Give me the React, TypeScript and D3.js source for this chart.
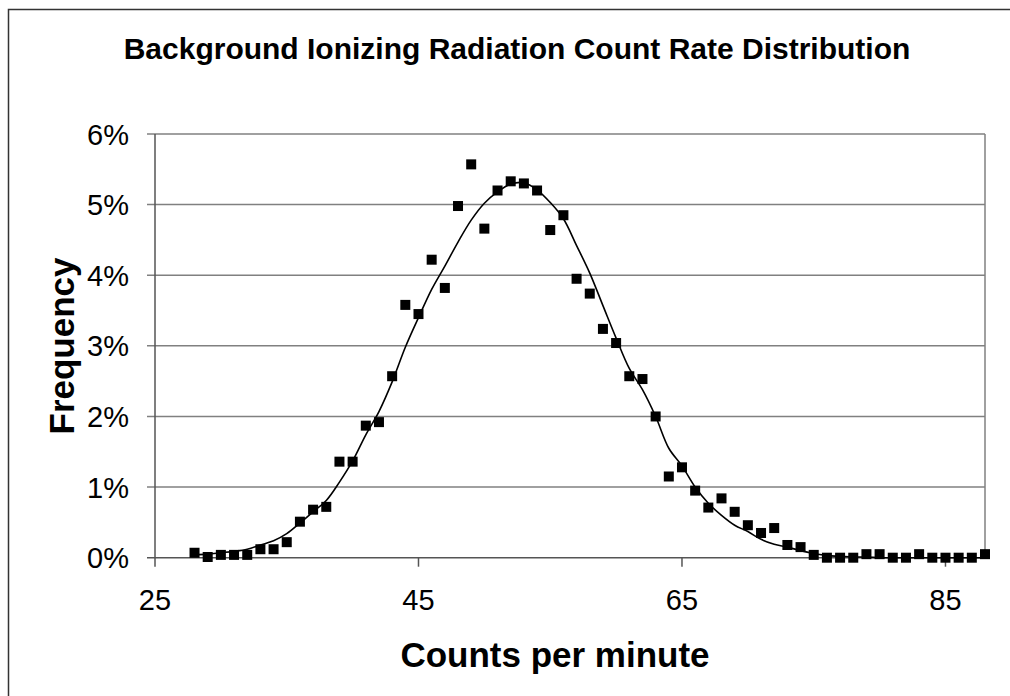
import React from "react";
import * as d3 from "d3";

const counts = [28, 29, 30, 31, 32, 33, 34, 35, 36, 37, 38, 39, 40, 41, 42, 43, 44, 45, 46, 47, 48, 49, 50, 51, 52, 53, 54, 55, 56, 57, 58, 59, 60, 61, 62, 63, 64, 65, 66, 67, 68, 69, 70, 71, 72, 73, 74, 75, 76, 77, 78, 79, 80, 81, 82, 83, 84, 85, 86, 87, 88];

const observed = [0.07, 0.01, 0.04, 0.04, 0.04, 0.12, 0.12, 0.22, 0.51, 0.68, 0.72, 1.36, 1.36, 1.87, 1.92, 2.57, 3.58, 3.45, 4.22, 3.82, 4.98, 5.57, 4.66, 5.2, 5.33, 5.3, 5.2, 4.64, 4.85, 3.95, 3.74, 3.24, 3.04, 2.57, 2.53, 2.0, 1.15, 1.28, 0.95, 0.71, 0.84, 0.65, 0.46, 0.35, 0.42, 0.18, 0.15, 0.04, 0.0, 0.0, 0.0, 0.05, 0.05, 0.0, 0.0, 0.05, 0.0, 0.0, 0.0, 0.0, 0.05];

const fitted = [0.04, 0.05, 0.07, 0.09, 0.12, 0.18, 0.24, 0.34, 0.49, 0.65, 0.81, 1.07, 1.37, 1.74, 2.07, 2.49, 2.98, 3.4, 3.8, 4.13, 4.47, 4.78, 5.02, 5.18, 5.29, 5.31, 5.21, 5.03, 4.8, 4.42, 4.03, 3.57, 3.11, 2.68, 2.38, 2.0, 1.55, 1.3, 1.0, 0.77, 0.6, 0.46, 0.37, 0.26, 0.19, 0.15, 0.1, 0.06, 0.03, 0.02, 0.01, 0.01, 0.0, 0.0, 0.0, 0.0, 0.0, 0.0, 0.0, 0.0, 0.0];

const xTicks = [25, 45, 65, 85];
const yTicks = [0, 1, 2, 3, 4, 5, 6];

const TITLE = "Background Ionizing Radiation Count Rate Distribution";
const X_TITLE = "Counts per minute";
const Y_TITLE = "Frequency";

const FONT = "'Liberation Sans', Arial, Helvetica, sans-serif";

export default function App() {
  const left = 155;
  const right = 985;
  const top = 134;
  const bottom = 557.7;

  const x = d3.scaleLinear().domain([25, 88]).range([left, right]);
  const y = d3.scaleLinear().domain([0, 6]).range([bottom, top]);

  const line = d3
    .line<number>()
    .x((_, i) => x(counts[i]))
    .y((d) => y(d))
    .curve(d3.curveCatmullRom.alpha(0.5));

  const ms = 10;

  return (
    <svg
      width={1010}
      height={696}
      style={{ position: "absolute", left: 0, top: 0, display: "block", background: "#fff" }}
    >
      <rect x={0} y={0} width={1010} height={696} fill="#fff" />
      <rect x={8.5} y={9.5} width={1200} height={900} fill="none" stroke="#333" strokeWidth={1.5} />

      <text
        x={517}
        y={59}
        textAnchor="middle"
        fontFamily={FONT}
        fontWeight="bold"
        fontSize={30}
        fill="#000"
      >
        {TITLE}
      </text>

      {/* gridlines */}
      {yTicks.map((t) => (
        <line
          key={"g" + t}
          x1={left - 8}
          x2={right}
          y1={y(t)}
          y2={y(t)}
          stroke={t === 0 ? "#555" : "#808080"}
          strokeWidth={1.5}
        />
      ))}
      {/* right border of plot */}
      <line x1={right} x2={right} y1={top} y2={bottom} stroke="#808080" strokeWidth={1.5} />
      {/* y axis */}
      <line x1={left} x2={left} y1={top} y2={bottom} stroke="#555" strokeWidth={1.5} />
      {/* x ticks */}
      {xTicks.map((t) => (
        <line key={"xt" + t} x1={x(t)} x2={x(t)} y1={bottom} y2={bottom + 9} stroke="#555" strokeWidth={1.5} />
      ))}

      {/* y tick labels */}
      {yTicks.map((t) => (
        <text
          key={"yl" + t}
          x={129}
          y={y(t) + 10.5}
          textAnchor="end"
          fontFamily={FONT}
          fontSize={29}
          fill="#000"
        >
          {t + "%"}
        </text>
      ))}
      {/* x tick labels */}
      {xTicks.map((t) => (
        <text
          key={"xl" + t}
          x={x(t)}
          y={610}
          textAnchor="middle"
          fontFamily={FONT}
          fontSize={29}
          fill="#000"
        >
          {t}
        </text>
      ))}

      {/* fitted curve */}
      <path d={line(fitted) || ""} fill="none" stroke="#000" strokeWidth={1.6} />

      {/* observed markers */}
      {observed.map((v, i) => (
        <rect key={"m" + i} x={x(counts[i]) - ms / 2} y={y(v) - ms / 2} width={ms} height={ms} fill="#000" />
      ))}

      <text
        x={555}
        y={667}
        textAnchor="middle"
        fontFamily={FONT}
        fontWeight="bold"
        fontSize={35}
        fill="#000"
      >
        {X_TITLE}
      </text>
      <text
        transform={`translate(74, ${346}) rotate(-90)`}
        textAnchor="middle"
        fontFamily={FONT}
        fontWeight="bold"
        fontSize={35}
        fill="#000"
      >
        {Y_TITLE}
      </text>
    </svg>
  );
}
